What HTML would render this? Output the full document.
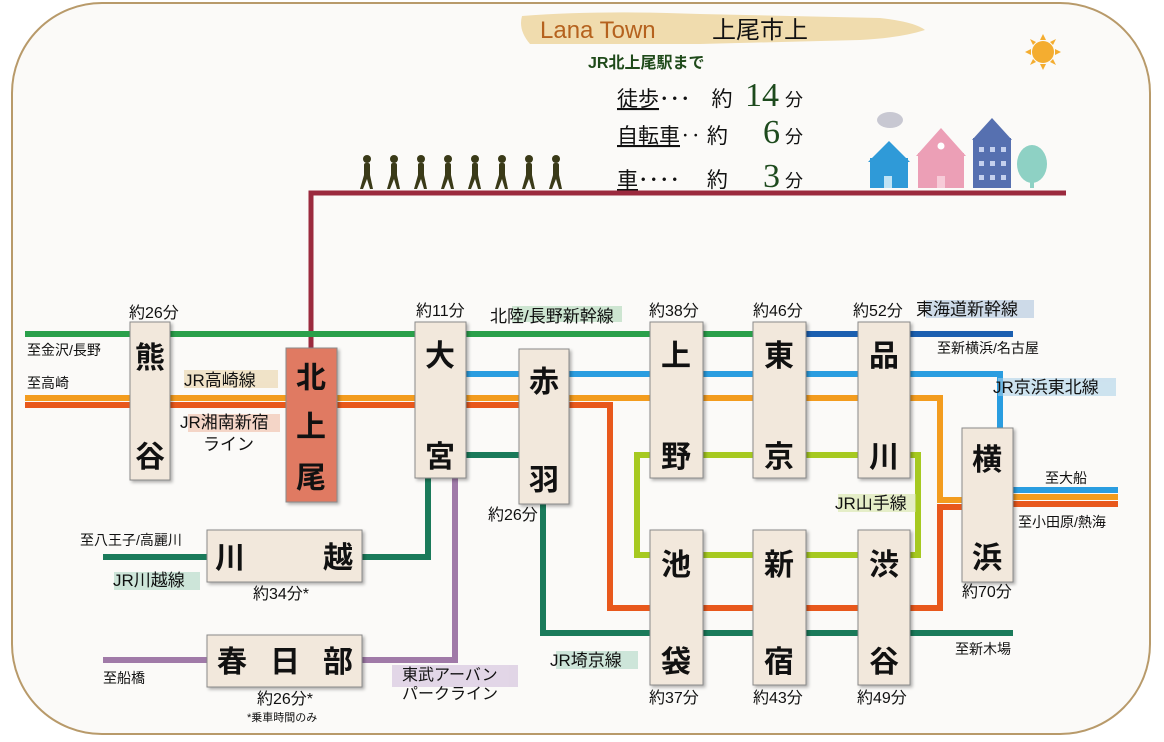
<!DOCTYPE html>
<html><head><meta charset="utf-8">
<style>
html,body{margin:0;padding:0;background:#fff;}
svg{display:block;}
text{font-family:"Liberation Sans","Noto Sans CJK JP",sans-serif;fill:#111;}
.st{font-size:30px;font-weight:bold;text-anchor:middle;}
.sm{font-size:14px;}
.lb{font-size:16px;}
</style></head>
<body>
<svg width="1164" height="742" viewBox="0 0 1164 742" xmlns="http://www.w3.org/2000/svg">
<defs>
<filter id="sh" x="-20%" y="-20%" width="150%" height="150%"><feDropShadow dx="2" dy="2" stdDeviation="1.5" flood-color="#000" flood-opacity="0.3"/></filter>
<g id="w"><circle cx="0" cy="0" r="4"/><rect x="-3" y="4" width="6" height="14" rx="2"/><path d="M-3 16 L-7 30 L-4 30 L0 20 L3 30 L6 30 L3 16Z"/></g>
</defs>
<rect x="0" y="0" width="1164" height="742" fill="#fff"/>
<rect x="12" y="3" width="1138" height="731" rx="90" ry="90" fill="#fbfaf8" stroke="#b89a6a" stroke-width="2"/>

<!-- banner -->
<path d="M522 16 Q600 10 700 14 L880 18 Q915 22 925 30 Q900 38 860 40 L700 44 L530 44 Q518 30 522 16Z" fill="#f0dcae"/>
<text x="540" y="38" style="font-size:24px;fill:#b5621e;">Lana Town</text>
<text x="712" y="38" style="font-size:24px;">上尾市上</text>
<text x="588" y="68" style="font-size:16px;font-weight:bold;fill:#1f4a1a;">JR北上尾駅まで</text>
<text x="617" y="106" style="font-size:21px;"><tspan text-decoration="underline">徒歩</tspan>･･･　約</text>
<text x="745" y="106" style="font-size:34px;font-family:'Liberation Serif',serif;fill:#1d4a1d;">14</text>
<text x="785" y="106" style="font-size:18px;">分</text>
<text x="617" y="143" style="font-size:21px;"><tspan text-decoration="underline">自転車</tspan>‥ 約</text>
<text x="763" y="143" style="font-size:34px;font-family:'Liberation Serif',serif;fill:#1d4a1d;">6</text>
<text x="785" y="143" style="font-size:18px;">分</text>
<text x="617" y="187" style="font-size:21px;"><tspan text-decoration="underline">車</tspan>････　 約</text>
<text x="763" y="187" style="font-size:34px;font-family:'Liberation Serif',serif;fill:#1d4a1d;">3</text>
<text x="785" y="187" style="font-size:18px;">分</text>

<!-- sun -->
<g fill="#f4ad30"><circle cx="1043" cy="52" r="11"/>
<polygon points="1043,34 1040,40 1046,40"/><polygon points="1043,70 1040,64 1046,64"/>
<polygon points="1025,52 1031,49 1031,55"/><polygon points="1061,52 1055,49 1055,55"/>
<polygon points="1030,39 1036,42 1033,45"/><polygon points="1056,39 1050,42 1053,45"/>
<polygon points="1030,65 1036,62 1033,59"/><polygon points="1056,65 1050,62 1053,59"/></g>

<!-- houses -->
<ellipse cx="890" cy="120" rx="13" ry="8" fill="#c8c8d2"/>
<polygon points="868,162 889,141 910,162" fill="#2f9ad8"/><rect x="870" y="158" width="38" height="30" fill="#2f9ad8"/>
<rect x="884" y="176" width="8" height="12" fill="#bfe3f5"/>
<polygon points="916,156 941,128 966,156" fill="#ec9fb6"/><rect x="918" y="153" width="46" height="35" fill="#ec9fb6"/>
<circle cx="941" cy="146" r="3.5" fill="#fff"/><rect x="937" y="176" width="8" height="12" fill="#f7cbd8"/>
<polygon points="972,140 992,118 1012,140" fill="#5670b0"/><rect x="973" y="138" width="38" height="50" fill="#5670b0"/>
<g fill="#c4d0ee"><rect x="979" y="147" width="5" height="5"/><rect x="990" y="147" width="5" height="5"/><rect x="1001" y="147" width="5" height="5"/>
<rect x="979" y="161" width="5" height="5"/><rect x="990" y="161" width="5" height="5"/><rect x="1001" y="161" width="5" height="5"/>
<rect x="979" y="175" width="5" height="5"/><rect x="990" y="175" width="5" height="5"/><rect x="1001" y="175" width="5" height="5"/></g>
<ellipse cx="1032" cy="164" rx="15" ry="19" fill="#8ed1c4"/><rect x="1030" y="178" width="4" height="10" fill="#8ed1c4"/>

<!-- walkers -->
<g fill="#3a3a18">
<use href="#w" x="367" y="159"/><use href="#w" x="394" y="159"/><use href="#w" x="421" y="159"/><use href="#w" x="448" y="159"/>
<use href="#w" x="475" y="159"/><use href="#w" x="502" y="159"/><use href="#w" x="529" y="159"/><use href="#w" x="556" y="159"/>
</g>

<!-- maroon -->
<polyline points="311,350 311,193 1066,193" fill="none" stroke="#9b2a3e" stroke-width="5"/>

<!-- lines -->
<g fill="none" stroke-width="6">
<line x1="25" y1="334" x2="760" y2="334" stroke="#2aa04a"/>
<line x1="760" y1="334" x2="1013" y2="334" stroke="#1b5fb0"/>
<polyline points="465,374 1000,374 1000,430" stroke="#2a9de0"/>
<line x1="1013" y1="490" x2="1118" y2="490" stroke="#2a9de0"/>
<polyline points="25,398 940,398 940,500 962,500" stroke="#f39c1e"/>
<line x1="1013" y1="497" x2="1118" y2="497" stroke="#f39c1e"/>
<polyline points="25,405 610,405 610,608 940,608 940,507 962,507" stroke="#e8581c"/>
<line x1="1013" y1="504" x2="1118" y2="504" stroke="#e8581c"/>
<polyline points="703,455 637,455 637,555 703,555" stroke="#a6c920"/>
<line x1="703" y1="455" x2="858" y2="455" stroke="#a6c920"/>
<line x1="703" y1="555" x2="858" y2="555" stroke="#a6c920"/>
<polyline points="910,455 918,455 918,555 910,555" stroke="#a6c920"/>
<line x1="466" y1="455" x2="519" y2="455" stroke="#1a7a5a"/>
<polyline points="543,504 543,633 1013,633" stroke="#1a7a5a"/>
<line x1="103" y1="557" x2="207" y2="557" stroke="#1a7a5a"/>
<polyline points="362,557 428,557 428,478" stroke="#1a7a5a"/>
<line x1="103" y1="660" x2="207" y2="660" stroke="#a07aa8"/>
<polyline points="362,660 455,660 455,478" stroke="#a07aa8"/>
</g>

<!-- boxes -->
<g stroke="#8a8a8a" stroke-width="1" filter="url(#sh)" fill="#f2e8dc">
<rect x="130" y="322" width="40" height="158"/>
<rect x="286" y="348" width="51" height="154" fill="#e07a62"/>
<rect x="415" y="322" width="51" height="156"/>
<rect x="519" y="349" width="50" height="155"/>
<rect x="650" y="322" width="53" height="156"/>
<rect x="753" y="322" width="53" height="156"/>
<rect x="858" y="322" width="52" height="156"/>
<rect x="962" y="428" width="51" height="154"/>
<rect x="650" y="530" width="53" height="155"/>
<rect x="753" y="530" width="53" height="155"/>
<rect x="858" y="530" width="52" height="155"/>
<rect x="207" y="530" width="155" height="52"/>
<rect x="207" y="635" width="155" height="52"/>
</g>

<g class="st">
<text class="st" x="150" y="368">熊</text><text class="st" x="150" y="467">谷</text>
<text class="st" x="311" y="388">北</text><text class="st" x="311" y="437">上</text><text class="st" x="311" y="488">尾</text>
<text class="st" x="440" y="366">大</text><text class="st" x="440" y="467">宮</text>
<text class="st" x="544" y="392">赤</text><text class="st" x="544" y="490">羽</text>
<text class="st" x="676" y="366">上</text><text class="st" x="676" y="467">野</text>
<text class="st" x="779" y="366">東</text><text class="st" x="779" y="467">京</text>
<text class="st" x="884" y="366">品</text><text class="st" x="884" y="467">川</text>
<text class="st" x="987" y="470">横</text><text class="st" x="987" y="568">浜</text>
<text class="st" x="676" y="575">池</text><text class="st" x="676" y="672">袋</text>
<text class="st" x="779" y="575">新</text><text class="st" x="779" y="672">宿</text>
<text class="st" x="884" y="575">渋</text><text class="st" x="884" y="672">谷</text>
<text class="st" x="230" y="568">川</text><text class="st" x="338" y="568">越</text>
<text class="st" x="232" y="672">春</text><text class="st" x="285" y="672">日</text><text class="st" x="338" y="672">部</text>
</g>

<!-- highlights -->
<g opacity="0.55">
<rect x="184" y="370" width="94" height="18" fill="#e8cfa0"/>
<rect x="188" y="414" width="92" height="18" fill="#f0b8a0"/>
<rect x="512" y="306" width="110" height="16" fill="#a8d4b0"/>
<rect x="926" y="300" width="108" height="18" fill="#a8c0dc"/>
<rect x="998" y="378" width="118" height="18" fill="#a8cfe8"/>
<rect x="838" y="494" width="78" height="18" fill="#d4e4a0"/>
<rect x="556" y="651" width="82" height="18" fill="#a8d4c0"/>
<rect x="114" y="572" width="86" height="18" fill="#a8d4c0"/>
<rect x="392" y="665" width="126" height="22" fill="#cdb8d8"/>
</g>

<!-- labels -->
<g class="lb">
<text class="lb" x="129" y="318">約26分</text>
<text class="lb" x="416" y="316">約11分</text>
<text class="lb" x="649" y="316">約38分</text>
<text class="lb" x="753" y="316">約46分</text>
<text class="lb" x="853" y="316">約52分</text>
<text x="490" y="322" style="font-size:17px;">北陸/長野新幹線</text>
<text x="916" y="315" style="font-size:17px;">東海道新幹線</text>
<text class="sm" x="937" y="353">至新横浜/名古屋</text>
<text x="993" y="393" style="font-size:17px;">JR京浜東北線</text>
<text class="sm" x="1045" y="483">至大船</text>
<text class="sm" x="1018" y="527">至小田原/熱海</text>
<text class="lb" x="962" y="597">約70分</text>
<text class="sm" x="955" y="654">至新木場</text>
<text class="lb" x="649" y="703">約37分</text>
<text class="lb" x="753" y="703">約43分</text>
<text class="lb" x="857" y="703">約49分</text>
<text x="835" y="509" style="font-size:17px;">JR山手線</text>
<text x="550" y="666" style="font-size:17px;">JR埼京線</text>
<text class="lb" x="488" y="520">約26分</text>
<text class="sm" x="80" y="545">至八王子/高麗川</text>
<text x="113" y="586" style="font-size:17px;">JR川越線</text>
<text class="lb" x="253" y="599">約34分*</text>
<text class="sm" x="103" y="683">至船橋</text>
<text class="lb" x="257" y="704">約26分*</text>
<text x="247" y="721" style="font-size:11px;">*乗車時間のみ</text>
<text class="lb" x="402" y="680">東武アーバン</text>
<text class="lb" x="402" y="699">パークライン</text>
<text class="sm" x="27" y="355">至金沢/長野</text>
<text class="sm" x="27" y="388">至高崎</text>
<text x="184" y="386" style="font-size:17px;">JR高崎線</text>
<text x="180" y="428" style="font-size:17px;">JR湘南新宿</text>
<text x="203" y="450" style="font-size:17px;">ライン</text>
</g>
</svg>
</body></html>
